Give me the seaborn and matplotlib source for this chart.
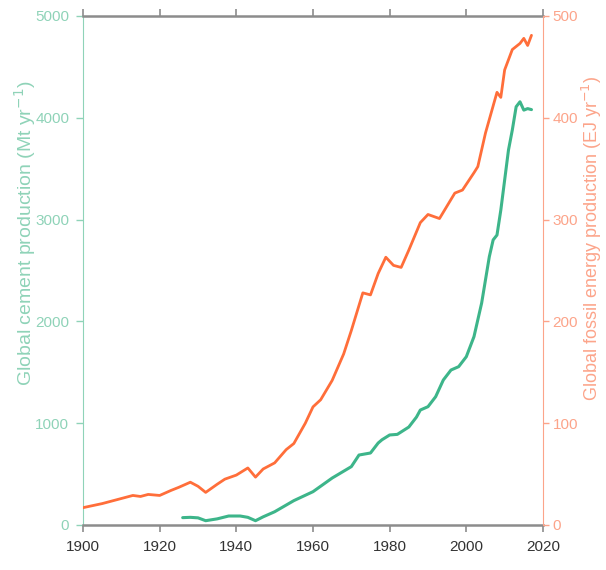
import numpy as np
import pandas as pd
import matplotlib
matplotlib.use("Agg")
import matplotlib.pyplot as plt
import seaborn as sns

# fossil energy production (EJ/yr)
energy_years = [1900, 1905, 1910, 1913, 1915, 1917, 1920, 1923, 1925, 1928, 1930, 1932,
                1935, 1937, 1940, 1943, 1945, 1947, 1950, 1953, 1955, 1958, 1960, 1962,
                1965, 1968, 1970, 1973, 1975, 1977, 1979, 1981, 1983, 1985, 1988, 1990,
                1993, 1997, 1999, 2002, 2003, 2005, 2008, 2009, 2010, 2012, 2014, 2015,
                2016, 2017]
energy_ej = [17, 21, 26, 29, 28, 30, 29, 34, 37, 42, 38, 32,
             40, 45, 49, 56, 47, 55, 61, 74, 80, 100, 116, 123,
             142, 168, 191, 228, 226, 247, 263, 255, 253, 270, 297, 305,
             301, 326, 329, 346, 352, 385, 425, 420, 447, 467, 473, 478,
             471, 481]

# cement production (Mt/yr)
cement_years = [1926, 1928, 1930, 1932, 1935, 1938, 1941, 1943, 1945, 1947, 1950, 1955,
                1960, 1965, 1970, 1972, 1975, 1977, 1978, 1980, 1982, 1985, 1987, 1988,
                1990, 1992, 1994, 1996, 1998, 2000, 2002, 2004, 2006, 2007, 2008, 2009,
                2010, 2011, 2012, 2013, 2014, 2015, 2016, 2017]
cement_mt = [72, 75, 70, 42, 60, 88, 88, 75, 42, 80, 130, 239,
             327, 461, 573, 687, 707, 805, 837, 884, 890, 962, 1060, 1129,
             1162, 1260, 1424, 1522, 1555, 1653, 1850, 2180, 2635, 2800, 2848, 3093,
             3388, 3683, 3880, 4108, 4157, 4075, 4090, 4080]

year_ticks = [1900, 1920, 1940, 1960, 1980, 2000, 2020]
cement_ticks = [0, 1000, 2000, 3000, 4000, 5000]
energy_ticks = [0, 100, 200, 300, 400, 500]

green = "#3db58a"
green_light = "#8fd3b8"
orange = "#ff6e3a"
orange_light = "#fca48a"

sns.set_style("ticks")
plt.rcParams["font.family"] = ["Liberation Sans", "DejaVu Sans"]

energy_df = pd.DataFrame({"year": energy_years, "energy": energy_ej})
cement_df = pd.DataFrame({"year": cement_years, "cement": cement_mt})

fig = plt.figure(figsize=(6.06, 5.70), dpi=100)
ax = fig.add_axes([0.137, 0.079, 0.759, 0.893])
ax2 = ax.twinx()

sns.lineplot(data=cement_df, x="year", y="cement", ax=ax, color=green, lw=2.2)
sns.lineplot(data=energy_df, x="year", y="energy", ax=ax2, color=orange, lw=2.0)

ax.set_xlim(1900, 2020)
ax.set_ylim(0, 5000)
ax2.set_ylim(0, 500)
ax.set_xticks(year_ticks)
ax.set_yticks(cement_ticks)
ax2.set_yticks(energy_ticks)

ax.set_xlabel("")
ax.set_ylabel("Global cement production (Mt yr$^{-1}$)", color=green_light, fontsize=14)
ax2.set_ylabel("Global fossil energy production (EJ yr$^{-1}$)", color=orange_light,
               fontsize=13, rotation=90)
ax.yaxis.set_label_coords(-0.126, 0.574)
ax2.yaxis.set_label_coords(1.107, 0.564)
ax.yaxis.label.set_va("center")
ax2.yaxis.label.set_va("center")

for side in ["top", "bottom"]:
    ax.spines[side].set_color("#8c8c8c")
    ax.spines[side].set_linewidth(1.8)
    ax2.spines[side].set_visible(False)
ax.spines["left"].set_color(green_light)
ax.spines["right"].set_visible(False)
ax2.spines["left"].set_visible(False)
ax2.spines["right"].set_color(orange_light)

ax.tick_params(axis="x", direction="out", length=5, width=1.2, color="#8c8c8c",
               labelsize=11, labelcolor="#333333", top=True, pad=6)
ax.tick_params(axis="y", direction="out", length=5, width=1, color=green_light,
               labelsize=11, labelcolor=green_light, pad=5)
ax2.tick_params(axis="y", direction="out", length=4, width=1, color=orange_light,
                labelsize=11, labelcolor=orange_light, pad=3)

fig.savefig("out.png", dpi=100, facecolor="white")
